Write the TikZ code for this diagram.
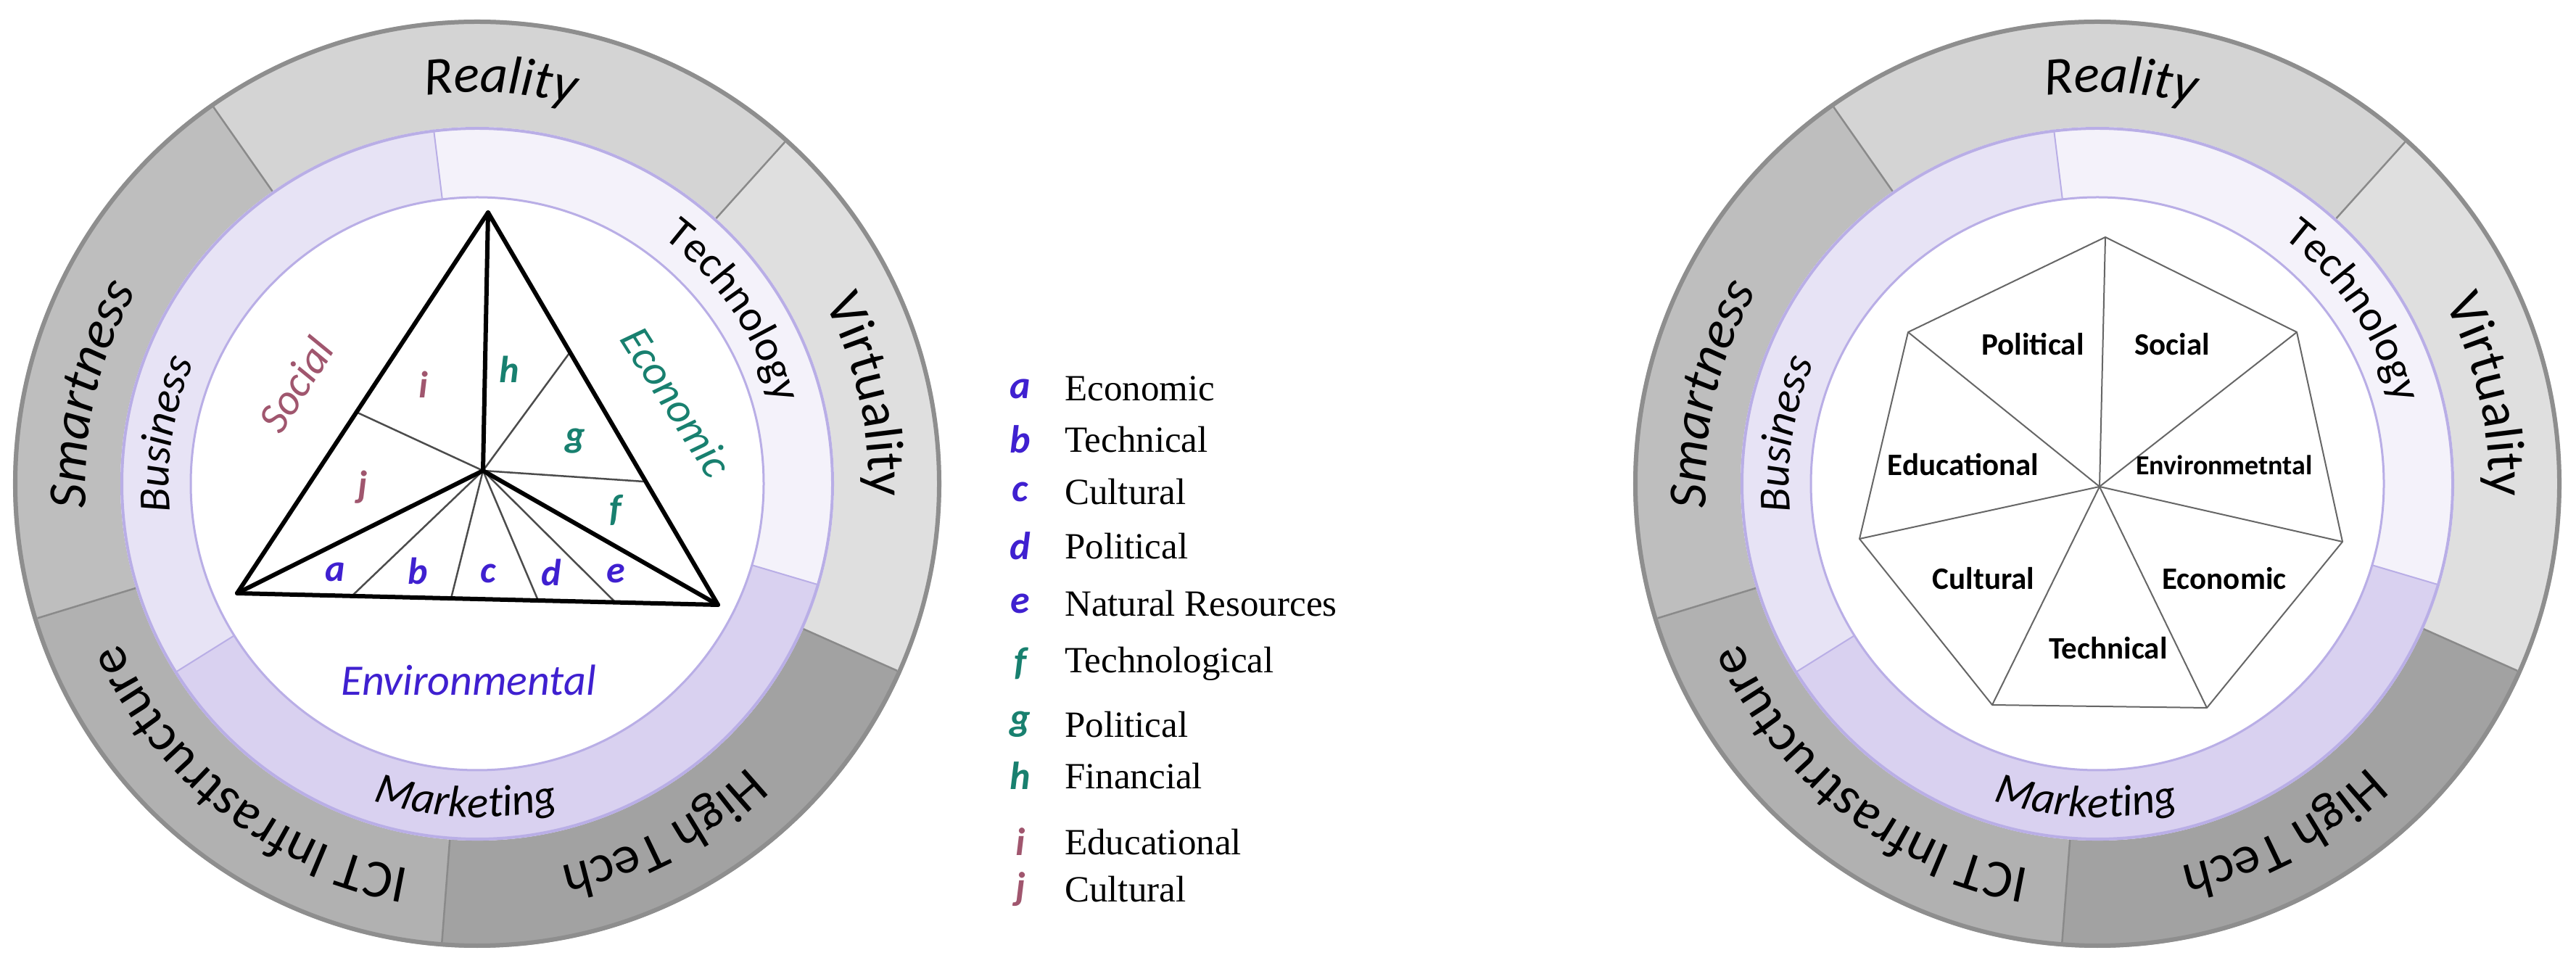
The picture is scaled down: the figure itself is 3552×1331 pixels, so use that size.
\documentclass[tikz,border=0pt]{standalone}
\usepackage{fontspec}
\setmainfont{Carlito}
\newfontfamily\legfont{Liberation Serif}
\usetikzlibrary{calc,decorations.text}
\definecolor{gReal}{HTML}{D4D4D4}
\definecolor{gSmart}{HTML}{BEBEBE}
\definecolor{gICT}{HTML}{B1B1B1}
\definecolor{gHigh}{HTML}{A2A2A2}
\definecolor{gVirt}{HTML}{DFDFDF}
\definecolor{gRim}{HTML}{8E8E8E}
\definecolor{gDiv}{HTML}{8A8A8A}
\definecolor{lBus}{HTML}{E7E3F5}
\definecolor{lTech}{HTML}{F4F2FA}
\definecolor{lMark}{HTML}{D9D1F0}
\definecolor{lLine}{HTML}{B9AEE6}
\definecolor{cBlue}{HTML}{3F20D0}
\definecolor{cTeal}{HTML}{18806F}
\definecolor{cMauve}{HTML}{A0566E}
\newcommand{\ringseg}[6]{%
  \fill[#6] ($(#1)+(#4:#3)$) arc[start angle=#4,end angle=#5,radius=#3] -- ($(#1)+(#5:#2)$) arc[start angle=#5,end angle=#4,radius=#2] -- cycle;}
\newcommand{\arctext}[6]{%
  \path[decorate,decoration={text along path,text align=center,text color=black,text={|#5|#6}}] ($(#1)+(#3:#2)$) arc[start angle=#3,end angle=#4,radius=#2];}
\newcommand{\outerfontI}{\fontsize{74pt}{80pt}\selectfont\itshape}
\newcommand{\outerfontU}{\fontsize{74pt}{80pt}\selectfont}
\newcommand{\innerfontI}{\fontsize{61pt}{66pt}\selectfont\itshape}
\newcommand{\innerfontU}{\fontsize{60pt}{66pt}\selectfont}
\newcommand{\wheel}[1]{%
  \ringseg{#1}{492pt}{640pt}{48}{125}{gReal}
  \ringseg{#1}{492pt}{640pt}{125}{197}{gSmart}
  \ringseg{#1}{492pt}{640pt}{197}{265.6}{gICT}
  \ringseg{#1}{492pt}{640pt}{265.6}{336}{gHigh}
  \ringseg{#1}{492pt}{640pt}{336}{408}{gVirt}
  \draw[gRim,line width=6pt] (#1) circle[radius=637pt];
  \foreach \a in {48,125,197,265.6,336} \draw[gDiv,line width=2.5pt] ($(#1)+(\a:492pt)$) -- ($(#1)+(\a:634pt)$);
  \ringseg{#1}{395pt}{492pt}{97}{212}{lBus}
  \ringseg{#1}{395pt}{492pt}{212}{343.5}{lMark}
  \ringseg{#1}{395pt}{492pt}{-16.5}{97}{lTech}
  \foreach \a in {97,212,343.5} \draw[lLine,line width=2pt] ($(#1)+(\a:395pt)$) -- ($(#1)+(\a:492pt)$);
  \draw[lLine,line width=4pt] (#1) circle[radius=490pt];
  \fill[white] (#1) circle[radius=395pt];
  \draw[lLine,line width=3pt] (#1) circle[radius=395pt];
  \arctext{#1}{540pt}{136.7}{36.7}{\outerfontI}{Reality}
  \arctext{#1}{540pt}{217}{117}{\outerfontI}{Smartness}
  \arctext{#1}{540pt}{62.8}{-37.2}{\outerfontU}{Virtuality}
  \arctext{#1}{540pt}{-12}{-112}{\outerfontU}{High Tech}
  \arctext{#1}{540pt}{282}{182}{\outerfontU}{ICT Infrastructure}
  \arctext{#1}{425pt}{221}{121}{\innerfontI}{Business}
  \arctext{#1}{425pt}{84}{-16}{\innerfontU}{Technology}
  \arctext{#1}{460pt}{218}{318}{\innerfontI}{Marketing}
}
\tikzset{
  thickline/.style={line width=6pt,line join=round,line cap=round},
  thinline/.style={line width=2.5pt,black!70},
  hepline/.style={line width=2pt,black!60},
  triletter/.style={font=\fontsize{52pt}{56pt}\selectfont\bfseries\itshape,inner sep=0pt},
  triword/.style={font=\fontsize{60pt}{64pt}\selectfont\itshape,inner sep=0pt},
  legkey/.style={font=\fontsize{54pt}{58pt}\selectfont\bfseries\itshape,inner sep=0pt},
  legval/.style={font=\fontsize{51pt}{56pt}\selectfont\legfont,inner sep=0pt,anchor=west},
  heplabel/.style={font=\fontsize{43pt}{46pt}\selectfont\bfseries,inner sep=0pt},
}
\begin{document}
\begin{tikzpicture}[x=1pt,y=1pt]
\useasboundingbox (0,0) rectangle (3552,1331);
\fill[white] (0,0) rectangle (3552,1331);
\coordinate (CL) at (658,664);
\coordinate (CR) at (2892,664);
\wheel{CL}
\wheel{CR}
% triangle
\coordinate (T) at (673,1038);
\coordinate (A) at (327,513);
\coordinate (B) at (990,497);
\coordinate (O) at (666,682);
\coordinate (P1) at (493,762);
\coordinate (P2) at (785,844);
\coordinate (P3) at (888,667);
\coordinate (Q1) at (485,509);
\coordinate (Q2) at (622,506);
\coordinate (Q3) at (742,503);
\coordinate (Q4) at (849,500);
\draw[thinline] (O) -- (P1);
\draw[thinline] (O) -- (P2);
\draw[thinline] (O) -- (P3);
\draw[thinline] (O) -- (Q1);
\draw[thinline] (O) -- (Q2);
\draw[thinline] (O) -- (Q3);
\draw[thinline] (O) -- (Q4);
\draw[thickline] (T) -- (A) -- (B) -- cycle;
\draw[thickline] (O) -- (T);
\draw[thickline] (O) -- (A);
\draw[thickline] (O) -- (B);
\node[triletter,text=cBlue] (ta) at (462,542) {a};
\node[triletter,text=cBlue] (tb) at (576,544) {b};
\node[triletter,text=cBlue] (tc) at (673,540) {c};
\node[triletter,text=cBlue] (td) at (760,542) {d};
\node[triletter,text=cBlue] (te) at (849,540) {e};
\node[triletter,text=cTeal] (tf) at (849,628) {f};
\node[triletter,text=cTeal] (tg) at (793,723) {g};
\node[triletter,text=cTeal] (th) at (702,822) {h};
\node[triletter,text=cMauve] (ti) at (584,801) {i};
\node[triletter,text=cMauve] (tj) at (500,659) {j};
\node[triword,text=cMauve,rotate=57.6] (social) at (408,801) {Social};
\node[triword,text=cTeal,rotate=-57.6] (economic) at (933,777) {Economic};
\node[triword,text=cBlue] (environ) at (646,393) {Environmental};
% legend
\foreach \k/\yy/\cc/\w in {a/795/cBlue/Economic,b/725/cBlue/Technical,c/653/cBlue/Cultural,d/578/cBlue/Political,e/499/cBlue/Natural Resources,f/416/cTeal/Technological,g/332/cTeal/Political,h/261/cTeal/Financial,i/170/cMauve/Educational,j/105/cMauve/Cultural}{
  \node[legkey,text=\cc] (key-\k) at (1407,\yy) {\k};
  \node[legval] (val-\k) at (1468,\yy) {\w};
}
% heptagon
\coordinate (V1) at (2903,1004);
\coordinate (V2) at (3167,873);
\coordinate (V3) at (3230,584);
\coordinate (V4) at (3043,355);
\coordinate (V5) at (2747,359);
\coordinate (V6) at (2564,588);
\coordinate (V7) at (2631,873);
\coordinate (H) at (2895,660);
\draw[hepline,line join=round] (V1) -- (V2) -- (V3) -- (V4) -- (V5) -- (V6) -- (V7) -- cycle;
\foreach \v in {V1,V2,V3,V4,V5,V6,V7} \draw[hepline] (H) -- (\v);
\node[heplabel] (hpol) at (2803,856) {Political};
\node[heplabel] (hsoc) at (2995,856) {Social};
\node[heplabel] (hedu) at (2707,690) {Educational};
\node[heplabel,font=\fontsize{38pt}{42pt}\selectfont\bfseries] (henv) at (3067,690) {Environmetntal};
\node[heplabel] (hcul) at (2735,533) {Cultural};
\node[heplabel] (heco) at (3067,533) {Economic};
\node[heplabel] (htec) at (2907,437) {Technical};
\end{tikzpicture}
\end{document}
